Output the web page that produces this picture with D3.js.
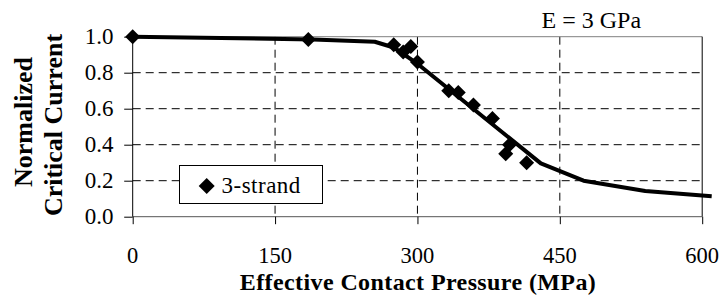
<!DOCTYPE html>
<html>
<head>
<meta charset="utf-8">
<script src="https://cdn.jsdelivr.net/npm/d3@7"></script>
</head>
<body style="margin:0">
<div id="wrap" style="position:relative;width:723px;height:295px;overflow:hidden;background:#fff">
  <svg id="fig" width="723" height="295" style="position:absolute;left:0;top:0"></svg>
</div>
<script>
// measured points (3-strand)
const strandP = [0, 185, 275, 285, 293, 300, 333, 343, 359, 379, 397, 393, 415];
const strandI = [1.0, 0.985, 0.955, 0.915, 0.945, 0.86, 0.70, 0.69, 0.62, 0.545, 0.40, 0.35, 0.30];

// model curve, E = 3 GPa
const curveP = [0, 190, 255, 275, 300, 430, 475, 540, 610];
const curveI = [1.0, 0.985, 0.972, 0.94, 0.85, 0.296, 0.20, 0.143, 0.114];

const xTicks = [0, 150, 300, 450, 600];
const yTicks = [0, 0.2, 0.4, 0.6, 0.8, 1.0];

const fontName = "'Liberation Serif', serif";
const ASC = 0.891; // ascent of Liberation Serif, in em

const svg = d3.select('#fig');
const wrap = d3.select('#wrap');

const x = d3.scaleLinear().domain([0, 600]).range([132.7, 702.2]);
const y = d3.scaleLinear().domain([0, 1]).range([216.7, 36.7]);

// html label: (px, baseline) with anchor start/middle/end
function label(txt, px, base, size, anchor, bold, spacing) {
  const shift = anchor === 'middle' ? '-50%' : anchor === 'end' ? '-100%' : '0';
  return wrap.append('div')
      .style('position', 'absolute')
      .style('left', px + 'px')
      .style('top', (base - ASC * size) + 'px')
      .style('transform', `translateX(${shift})`)
      .style('font-family', fontName)
      .style('font-size', size + 'px')
      .style('font-weight', bold ? 'bold' : 'normal')
      .style('line-height', 'normal')
      .style('letter-spacing', (spacing || 0) + 'px')
      .style('white-space', 'nowrap')
      .style('color', '#000')
      .text(txt);
}

// grid
const grid = svg.append('g');
grid.selectAll('line.h')
    .data(yTicks.filter(d => d > 0 && d < 1))
    .enter().append('line')
    .attr('x1', x(0)).attr('x2', x(600))
    .attr('y1', d => y(d)).attr('y2', d => y(d))
    .attr('stroke', '#000').attr('stroke-width', 1)
    .attr('stroke-dasharray', '8,5');
grid.selectAll('line.v')
    .data(xTicks.filter(d => d > 0 && d < 600))
    .enter().append('line')
    .attr('x1', d => x(d)).attr('x2', d => x(d))
    .attr('y1', y(1)).attr('y2', y(0))
    .attr('stroke', '#000').attr('stroke-width', 1)
    .attr('stroke-dasharray', '8,5');

// top and right border
svg.append('line')
    .attr('x1', x(0)).attr('x2', x(600)).attr('y1', y(1)).attr('y2', y(1))
    .attr('stroke', '#808080');
svg.append('line')
    .attr('x1', x(600)).attr('x2', x(600)).attr('y1', y(1)).attr('y2', y(0))
    .attr('stroke', '#000');

// axes (ticks from d3, labels as html text)
const xAxis = svg.append('g')
    .attr('transform', `translate(0,${y(0)})`)
    .call(d3.axisBottom(x).tickValues(xTicks).tickSize(7.5).tickFormat(''));
xAxis.select('.domain').attr('stroke', '#555').attr('d', `M${x(0)},0H${x(600)}`);
xAxis.selectAll('.tick line').attr('stroke', '#000');

const yAxis = svg.append('g')
    .attr('transform', `translate(${x(0)},0)`)
    .call(d3.axisLeft(y).tickValues(yTicks).tickSize(8.5).tickFormat(''));
yAxis.select('.domain').attr('stroke', '#000').attr('d', `M0,${y(0)}V${y(1)}`);
yAxis.selectAll('.tick line').attr('stroke', '#000');

xTicks.forEach(v => label(d3.format('d')(v), x(v), 263, 22.5, 'middle'));
yTicks.forEach(v => label(d3.format('.1f')(v), 113.5, y(v) + 8, 23, 'end'));

// curve
const line = d3.line().x((d, i) => x(curveP[i])).y(d => y(d));
svg.append('path')
    .datum(curveI)
    .attr('d', line)
    .attr('fill', 'none')
    .attr('stroke', '#000')
    .attr('stroke-width', 4)
    .attr('stroke-linejoin', 'round');

// diamonds
const diamond = 'M0,-7.5L7.5,0L0,7.5L-7.5,0Z';
svg.append('g').selectAll('path')
    .data(strandI)
    .enter().append('path')
    .attr('d', diamond)
    .attr('transform', (d, i) => `translate(${x(strandP[i])},${y(d)})`)
    .attr('fill', '#000');

// legend
svg.append('rect')
    .attr('x', 179.5).attr('y', 165.5).attr('width', 143).attr('height', 38)
    .attr('fill', '#fff').attr('stroke', '#000');
svg.append('path')
    .attr('d', 'M0,-8L8,0L0,8L-8,0Z')
    .attr('transform', 'translate(206.7,186)')
    .attr('fill', '#000');
label('3-strand', 221.5, 193.5, 23, 'start', false, 0.5);

// annotation
label('E = 3 GPa', 541.5, 28.3, 24, 'start');

// x title
label('Effective Contact Pressure (MPa)', 418, 290, 24, 'middle', true, 0.4);

// y title, two rotated lines (baseline at bx, centred on cy)
function yTitle(txt, bx, cy, size) {
  const cx = bx - (ASC - 1.107 / 2) * size;
  wrap.append('div')
      .style('position', 'absolute')
      .style('left', cx + 'px')
      .style('top', cy + 'px')
      .style('transform', 'translate(-50%,-50%) rotate(-90deg)')
      .style('font-family', fontName)
      .style('font-size', size + 'px')
      .style('font-weight', 'bold')
      .style('line-height', 'normal')
      .style('white-space', 'nowrap')
      .style('color', '#000')
      .text(txt);
}
yTitle('Normalized', 33, 122, 26);
yTitle('Critical Current', 63, 125, 26);
</script>
</body>
</html>
